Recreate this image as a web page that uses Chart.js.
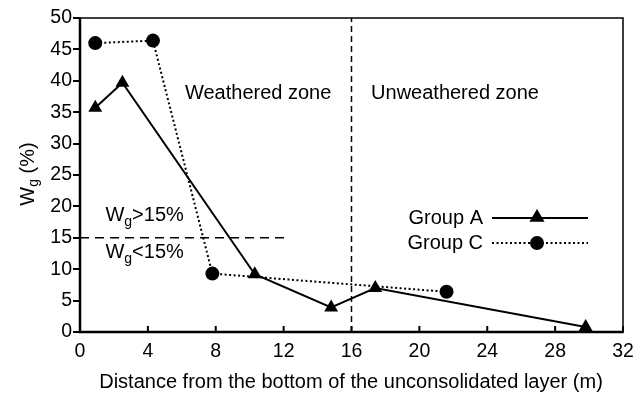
<!DOCTYPE html>
<html>
<head>
<meta charset="utf-8">
<script src="https://cdn.jsdelivr.net/npm/chart.js@4/dist/chart.umd.min.js"></script>
<style>
  html, body { margin: 0; padding: 0; background: #fff; }
  #wrap { width: 644px; height: 395px; }
</style>
</head>
<body>
<div id="wrap"><canvas id="c" width="644" height="395"></canvas></div>
<script>
// data
const groupA_x = [0.9, 2.5, 10.3, 14.8, 17.4, 29.8];
const groupA_y = [35.7, 39.7, 9.2, 3.9, 7.0, 0.8];
const groupC_x = [0.9, 4.3, 7.8, 21.6];
const groupC_y = [46.0, 46.4, 9.3, 6.4];
const xTicks = [0, 4, 8, 12, 16, 20, 24, 28, 32];
const yTicks = [0, 5, 10, 15, 20, 25, 30, 35, 40, 45, 50];
const zoneBoundary = 16;      // vertical dashed line (m)
const thresholdLine = [0, 12.1, 15]; // x from, x to, Wg value

const FONT = '"Liberation Sans", Arial, sans-serif';
const TXT = 20;

const toPoints = (xs, ys) => xs.map((x, i) => ({ x: x, y: ys[i] }));

function triangle(ctx, x, y, r) {
    ctx.beginPath();
    ctx.moveTo(x, y - r);
    ctx.lineTo(x + r * 0.95, y + r * 0.6);
    ctx.lineTo(x - r * 0.95, y + r * 0.6);
    ctx.closePath();
    ctx.fill();
}

// W with subscript g followed by some text, left aligned at x
function wgText(ctx, x, y, rest, size) {
    ctx.textAlign = 'left';
    ctx.font = size + 'px ' + FONT;
    ctx.fillText('W', x, y);
    let w = ctx.measureText('W').width;
    ctx.font = Math.round(size * 0.68) + 'px ' + FONT;
    ctx.fillText('g', x + w, y + size * 0.32);
    w += ctx.measureText('g').width;
    ctx.font = size + 'px ' + FONT;
    ctx.fillText(rest, x + w, y);
    return w + ctx.measureText(rest).width;
}

// draws frame, inward x ticks, annotations, legend and titles
const decorations = {
    id: 'decorations',
    afterDraw(chart) {
        const ctx = chart.ctx;
        const a = chart.chartArea;
        const xs = chart.scales.x;
        const ys = chart.scales.y;
        ctx.save();
        ctx.fillStyle = '#000';
        ctx.strokeStyle = '#000';

        // frame
        ctx.lineWidth = 1.5;
        ctx.beginPath();
        ctx.moveTo(a.left, a.top);
        ctx.lineTo(a.right, a.top);
        ctx.lineTo(a.right, a.bottom);
        ctx.stroke();
        ctx.lineWidth = 2.5;
        ctx.beginPath();
        ctx.moveTo(a.left, a.top - 0.75);
        ctx.lineTo(a.left, a.bottom);
        ctx.lineTo(a.right + 0.75, a.bottom);
        ctx.stroke();

        // inward x ticks
        ctx.lineWidth = 2;
        xTicks.forEach(v => {
            const px = xs.getPixelForValue(v);
            ctx.beginPath();
            ctx.moveTo(px, a.bottom);
            ctx.lineTo(px, a.bottom - 6);
            ctx.stroke();
        });

        // zone labels
        ctx.font = TXT + 'px ' + FONT;
        ctx.textAlign = 'center';
        ctx.textBaseline = 'middle';
        const yZone = ys.getPixelForValue(38);
        ctx.fillText('Weathered zone', xs.getPixelForValue(10.5), yZone);
        ctx.fillText('Unweathered zone', xs.getPixelForValue(22.1), yZone);

        // Wg threshold labels
        const xl = xs.getPixelForValue(1.5);
        wgText(ctx, xl, ys.getPixelForValue(18.5), '>15%', TXT);
        wgText(ctx, xl, ys.getPixelForValue(12.7), '<15%', TXT);

        // legend
        ctx.font = TXT + 'px ' + FONT;
        ctx.textAlign = 'right';
        const lx = a.right - 140;
        const rows = [
            { label: 'Group A', y: 218, dash: [], marker: 'tri' },
            { label: 'Group C', y: 243, dash: [2, 2.5], marker: 'circle' }
        ];
        rows.forEach(r => {
            ctx.textAlign = 'right';
            ctx.fillText(r.label, lx, r.y);
            ctx.setLineDash(r.dash);
            ctx.lineWidth = 2;
            ctx.beginPath();
            ctx.moveTo(lx + 9, r.y);
            ctx.lineTo(lx + 105, r.y);
            ctx.stroke();
            ctx.setLineDash([]);
            if (r.marker === 'tri') {
                triangle(ctx, lx + 54, r.y - 1, 8);
            } else {
                ctx.beginPath();
                ctx.arc(lx + 54, r.y, 7, 0, Math.PI * 2);
                ctx.fill();
            }
        });

        // x axis title
        ctx.font = TXT + 'px ' + FONT;
        ctx.textAlign = 'center';
        ctx.fillText('Distance from the bottom of the unconsolidated layer (m)', 351, 382);

        // y axis title, rotated
        ctx.translate(28, 174);
        ctx.rotate(-Math.PI / 2);
        ctx.font = TXT + 'px ' + FONT;
        const wW = ctx.measureText('W').width;
        ctx.font = Math.round(TXT * 0.68) + 'px ' + FONT;
        const wg = ctx.measureText('g').width;
        ctx.font = TXT + 'px ' + FONT;
        const wr = ctx.measureText(' (%)').width;
        wgText(ctx, -(wW + wg + wr) / 2, 0, ' (%)', TXT);

        ctx.restore();
    }
};

new Chart(document.getElementById('c'), {
    type: 'scatter',
    data: {
        datasets: [
            {
                label: 'zone',
                data: [{ x: zoneBoundary, y: 0 }, { x: zoneBoundary, y: 50 }],
                showLine: true,
                borderColor: '#000',
                borderWidth: 1.5,
                borderDash: [6, 4],
                pointRadius: 0
            },
            {
                label: 'threshold',
                data: [{ x: thresholdLine[0], y: thresholdLine[2] }, { x: thresholdLine[1], y: thresholdLine[2] }],
                showLine: true,
                borderColor: '#000',
                borderWidth: 1.5,
                borderDash: [9, 6],
                pointRadius: 0
            },
            {
                label: 'Group C',
                data: toPoints(groupC_x, groupC_y),
                showLine: true,
                borderColor: '#000',
                borderWidth: 2,
                borderDash: [2, 2.5],
                backgroundColor: '#000',
                pointStyle: 'circle',
                pointRadius: 7,
                pointBorderWidth: 0
            },
            {
                label: 'Group A',
                data: toPoints(groupA_x, groupA_y),
                showLine: true,
                borderColor: '#000',
                borderWidth: 2,
                backgroundColor: '#000',
                pointStyle: 'triangle',
                pointRadius: 8,
                pointBorderWidth: 0
            }
        ]
    },
    options: {
        responsive: false,
        animation: false,
        layout: { padding: { top: 18, right: 21, left: 0, bottom: 0 } },
        plugins: {
            legend: { display: false },
            tooltip: { enabled: false }
        },
        scales: {
            x: {
                type: 'linear',
                min: 0,
                max: 32,
                afterBuildTicks: s => { s.ticks = xTicks.map(v => ({ value: v })); },
                afterFit: s => { s.height = 63; },
                grid: { display: false, drawTicks: false },
                border: { display: false },
                ticks: { color: '#000', font: { family: FONT, size: 19.5 }, padding: 8, maxRotation: 0 }
            },
            y: {
                min: 0,
                max: 50,
                afterBuildTicks: s => { s.ticks = yTicks.map(v => ({ value: v })); },
                afterFit: s => { s.width = 80; },
                grid: { drawOnChartArea: false, drawTicks: true, tickLength: 7, color: '#000', lineWidth: 2 },
                border: { display: false },
                ticks: { color: '#000', font: { family: FONT, size: 19.5 }, padding: 1 }
            }
        }
    },
    plugins: [decorations]
});
</script>
</body>
</html>
